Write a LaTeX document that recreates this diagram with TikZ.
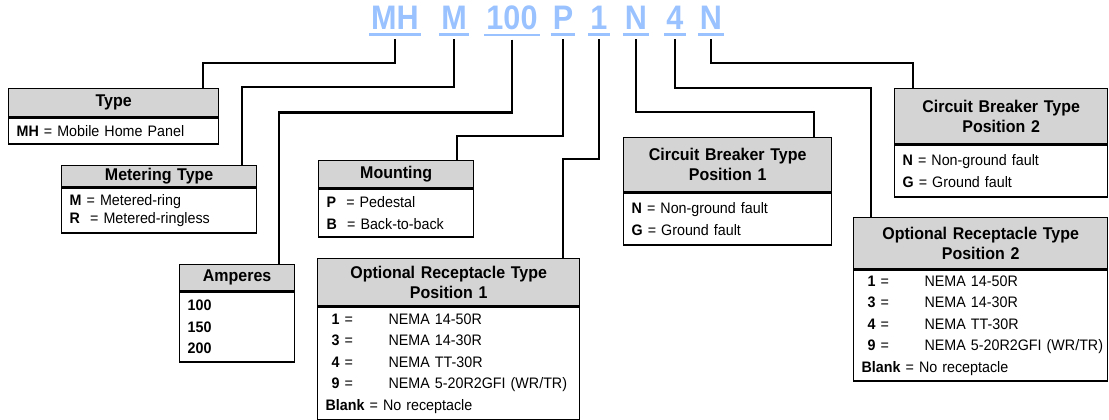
\documentclass[tikz,border=0pt]{standalone}
\usepackage{fontspec}
\setmainfont{Liberation Sans}[FakeStretch=0.94]
\newfontfamily\codefont{Liberation Sans}[FakeStretch=0.9]
\usetikzlibrary{positioning}
\definecolor{codeblue}{RGB}{153,194,255}
\definecolor{hdrgray}{RGB}{212,212,212}
\newcommand{\rcpt}[2]{\mbox{\hspace*{6pt}\makebox[57pt][l]{\textbf{#1} =}#2}}

\begin{document}
\begin{tikzpicture}[
x=1pt, y=-1pt,
code/.style = {anchor=base, text=codeblue, inner xsep=2pt, inner ysep=4.5pt,
               font=\codefont\fontsize{34}{34}\selectfont\bfseries},
uline/.style = {codeblue, line width=2.5pt},
hdr/.style 2 args = {draw, line width=1.3pt, fill=hdrgray, anchor=north west,
              inner sep=0pt, minimum width=#1, text width=#1,
              minimum height=#2, align=center,
              font=\fontsize{17}{20}\selectfont\bfseries},
body/.style 2 args = {draw, line width=1.3pt, inner xsep=8pt, inner ysep=0pt,
              minimum width=#1, text width=#1-16, minimum height=#2,
              align=left, font=\fontsize{15.2}{21.5}\selectfont},
link/.style = {line width=2.2pt}
                ]
\useasboundingbox (0,0) rectangle (1109,420);

%% catalogue number
\node (c1) [code] at (395,30) {MH};
\node (c2) [code] at (454,30) {M};
\node (c3) [code] at (512,30) {100};
\node (c4) [code] at (563,30) {P};
\node (c5) [code] at (599,30) {1};
\node (c6) [code] at (636,30) {N};
\node (c7) [code] at (675,30) {4};
\node (c8) [code] at (711,30) {N};
\foreach \i in {1,...,8}
    \draw[uline] (c\i.south west) -- (c\i.south east);

%% boxes
\node (type) [hdr={210}{28}] at (8,88) {Type};
\node (typeb) [body={210}{26}, below=0pt of type] {\textbf{MH} = Mobile Home Panel};

\node (meter) [hdr={195}{21}] at (61,165) {Metering Type};
\node (meterb) [body={195}{45}, below=0pt of meter]
    {\textbf{M} = Metered-ring\\[-4pt] \textbf{R}\ \ = Metered-ringless};

\node (mount) [hdr={155}{27}] at (318,160) {Mounting};
\node (mountb) [body={155}{48}, below=0pt of mount]
    {\textbf{P}\ \ = Pedestal\\ \textbf{B}\ \ = Back-to-back};

\node (amp) [hdr={115}{26}] at (179,264) {Amperes};
\node (ampb) [body={115}{70}, below=0pt of amp]
    {\textbf{100}\\ \textbf{150}\\ \textbf{200}};

\node (opt1) [hdr={262}{47}] at (317,258) {Optional Receptacle Type\\ Position 1};
\node (opt1b) [body={262}{113}, below=0pt of opt1]
    {\rcpt{1}{NEMA 14-50R}\\ \rcpt{3}{NEMA 14-30R}\\ \rcpt{4}{NEMA TT-30R}\\
     \rcpt{9}{NEMA 5-20R2GFI (WR/TR)}\\ \textbf{Blank} = No receptacle};

\node (cb1) [hdr={208}{54}] at (623,137) {Circuit Breaker Type\\ Position 1};
\node (cb1b) [body={208}{52}, below=0pt of cb1]
    {\textbf{N} = Non-ground fault\\ \textbf{G} = Ground fault};

\node (cb2) [hdr={213}{55}] at (894,88) {Circuit Breaker Type\\ Position 2};
\node (cb2b) [body={213}{52}, below=0pt of cb2]
    {\textbf{N} = Non-ground fault\\ \textbf{G} = Ground fault};

\node (opt2) [hdr={254}{51}] at (853,217) {Optional Receptacle Type\\ Position 2};
\node (opt2b) [body={254}{111}, below=0pt of opt2]
    {\rcpt{1}{NEMA 14-50R}\\ \rcpt{3}{NEMA 14-30R}\\ \rcpt{4}{NEMA TT-30R}\\
     \rcpt{9}{NEMA 5-20R2GFI (WR/TR)}\\ \textbf{Blank} = No receptacle};

%% leaders
\draw[link] ([yshift=-4.5pt]c1.south) -- ++(0,24)  -| ([xshift=195pt]type.north west);
\draw[link] ([yshift=-4.5pt]c2.south) -- ++(0,48)  -| ([xshift=181pt]meter.north west);
\draw[link] ([yshift=-4.5pt]c3.south) -- ++(0,73)  -| ([xshift=100pt]amp.north west);
\draw[link] ([yshift=-4.5pt]c4.south) -- ++(0,97)  -| ([xshift=139pt]mount.north west);
\draw[link] ([yshift=-4.5pt]c5.south) -- ++(0,120) -| ([xshift=246pt]opt1.north west);
\draw[link] ([yshift=-4.5pt]c6.south) -- ++(0,73)  -| ([xshift=191pt]cb1.north west);
\draw[link] ([yshift=-4.5pt]c7.south) -- ++(0,49)  -| ([xshift=18pt]opt2.north west);
\draw[link] ([yshift=-4.5pt]c8.south) -- ++(0,24)  -| ([xshift=19pt]cb2.north west);
\end{tikzpicture}
\end{document}
